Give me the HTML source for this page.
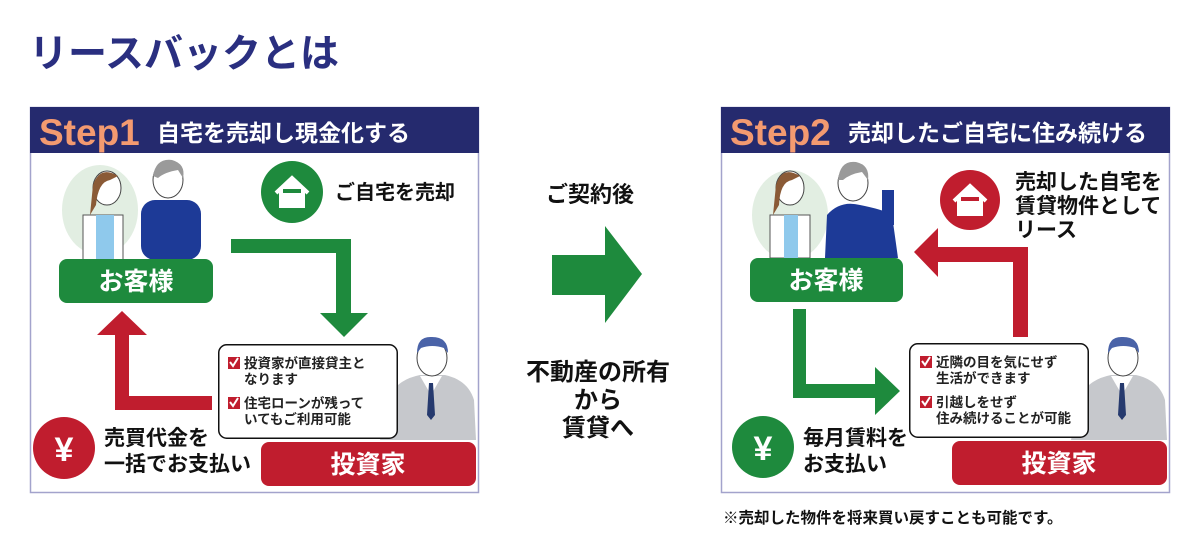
<!DOCTYPE html>
<html><head><meta charset="utf-8"><style>
html,body{margin:0;padding:0;background:#fff;}
svg{display:block;}
text{font-family:"Liberation Sans","Noto Sans CJK JP",sans-serif;font-weight:bold;}
</style></head><body>
<svg width="1200" height="546" viewBox="0 0 1200 546" xmlns="http://www.w3.org/2000/svg">
<text x="29" y="67" font-size="39" fill="#2a2f80">リースバックとは</text>

<!-- STEP1 -->
<rect x="30.5" y="107.5" width="448" height="385" fill="#fff" stroke="#a3a3cc" stroke-width="1.5"/>
<rect x="30" y="107" width="449" height="46" fill="#252a6e"/>
<text x="39" y="145" font-size="37" fill="#f39a70" font-family="Liberation Sans,sans-serif">Step1</text>
<text x="157" y="141" font-size="23" fill="#fff">自宅を売却し現金化する</text>

<ellipse cx="100" cy="210" rx="38" ry="45" fill="#dbeadb" opacity="0.8"/>
<rect x="83" y="215" width="40" height="45" fill="#fff" stroke="#555" stroke-width="1"/>
<rect x="96" y="215" width="18" height="45" fill="#8fc9ec"/>
<ellipse cx="107" cy="188" rx="14" ry="17" fill="#fff" stroke="#444"/>
<path d="M93 185 Q100 165 118 176 L110 180 Q98 182 96 205 L90 215 Z" fill="#8a5a36"/>
<rect x="141" y="200" width="60" height="60" rx="14" fill="#1d3a97"/>
<ellipse cx="168" cy="180" rx="15" ry="18" fill="#fff" stroke="#444"/>
<path d="M153 176 Q156 158 172 160 Q186 164 183 178 L178 170 Q165 172 158 178 Z" fill="#9a9a9a"/>
<rect x="59" y="259" width="154" height="44" rx="8" fill="#1e8a3d"/>
<text x="136" y="290" font-size="25" fill="#fff" text-anchor="middle">お客様</text>

<circle cx="292" cy="192" r="31" fill="#1e8a3d"/>
<path d="M276 193 L292 178 L308 193 M281 189 L281 206 L303 206 L303 189" fill="#fff" stroke="#fff" stroke-width="4"/>
<text x="335" y="199" font-size="20" fill="#111">ご自宅を売却</text>

<path d="M231 239 H351 V313 H368 L344 337 L320 313 H336 V253 H231 Z" fill="#1e8a3d"/>
<path d="M115 410 V335 H97 L122 311 L147 335 H129 V396 H212 V410 Z" fill="#c01d2e"/>

<path d="M380 440 L388 400 Q395 380 420 375 L445 375 Q468 380 474 400 L476 440 Z" fill="#c6c8cc"/>
<path d="M420 376 L431 395 L442 376 Z" fill="#fff"/>
<path d="M429 383 L433 383 L435 415 L431 420 L427 415 Z" fill="#263a6e"/>
<ellipse cx="432" cy="358" rx="15" ry="18" fill="#fff" stroke="#444"/>
<path d="M417 353 Q417 336 432 337 Q448 337 448 353 L444 348 Q432 344 421 348 Z" fill="#4a63a8"/>
<path d="M368 385 Q372 375 385 378 L395 398 L388 402 Z" fill="#fff" stroke="#555"/>

<rect x="218.75" y="344.75" width="178.5" height="93.5" rx="8" fill="#fff" stroke="#111" stroke-width="1.5"/>
<rect x="228" y="357" width="12" height="12" fill="#c01d2e"/><path d="M230 362 L233 366 L238 358" stroke="#fff" stroke-width="2" fill="none"/>
<text x="244" y="368" font-size="13.5" fill="#222">投資家が直接貸主と</text>
<text x="244" y="384" font-size="13.5" fill="#222">なります</text>
<rect x="228" y="397" width="12" height="12" fill="#c01d2e"/><path d="M230 402 L233 406 L238 398" stroke="#fff" stroke-width="2" fill="none"/>
<text x="244" y="408" font-size="13.5" fill="#222">住宅ローンが残って</text>
<text x="244" y="424" font-size="13.5" fill="#222">いてもご利用可能</text>

<rect x="261" y="442" width="215" height="44" rx="8" fill="#c01d2e"/>
<text x="368" y="473" font-size="25" fill="#fff" text-anchor="middle">投資家</text>

<circle cx="64" cy="448" r="31" fill="#c01d2e"/>
<text x="64" y="461" font-size="34" fill="#fff" text-anchor="middle">¥</text>
<text x="104" y="445" font-size="21" fill="#111">売買代金を</text>
<text x="104" y="471" font-size="21" fill="#111">一括でお支払い</text>

<!-- middle -->
<text x="590" y="202" font-size="22" fill="#111" text-anchor="middle">ご契約後</text>
<path d="M552 255 H605 V226 L642 274 L605 323 V295 H552 Z" fill="#1e8a3d"/>
<text x="598" y="380" font-size="24" fill="#111" text-anchor="middle">不動産の所有</text>
<text x="598" y="408" font-size="24" fill="#111" text-anchor="middle">から</text>
<text x="598" y="436" font-size="24" fill="#111" text-anchor="middle">賃貸へ</text>

<!-- STEP2 -->
<rect x="721.5" y="107.5" width="448" height="385" fill="#fff" stroke="#a3a3cc" stroke-width="1.5"/>
<rect x="721" y="107" width="449" height="46" fill="#252a6e"/>
<text x="730" y="145" font-size="37" fill="#f39a70" font-family="Liberation Sans,sans-serif">Step2</text>
<text x="848" y="141" font-size="23" fill="#fff">売却したご自宅に住み続ける</text>

<ellipse cx="790" cy="215" rx="38" ry="45" fill="#dbeadb" opacity="0.8"/>
<rect x="770" y="215" width="40" height="43" fill="#fff" stroke="#555" stroke-width="1"/>
<rect x="784" y="215" width="14" height="43" fill="#8fc9ec"/>
<ellipse cx="790" cy="188" rx="14" ry="17" fill="#fff" stroke="#444"/>
<path d="M776 185 Q782 165 800 176 L792 180 Q780 182 779 205 L773 215 Z" fill="#8a5a36"/>
<path d="M825 258 L827 215 Q840 200 860 205 Q885 210 892 215 L898 258 Z" fill="#1d3a97"/>
<rect x="882" y="190" width="12" height="35" fill="#1d3a97"/>
<ellipse cx="853" cy="183" rx="15" ry="18" fill="#fff" stroke="#444"/>
<path d="M838 180 Q840 160 856 162 Q870 165 868 180 L862 172 Q850 174 843 180 Z" fill="#9a9a9a"/>
<rect x="750" y="258" width="153" height="44" rx="8" fill="#1e8a3d"/>
<text x="826" y="289" font-size="25" fill="#fff" text-anchor="middle">お客様</text>

<circle cx="970" cy="200" r="30" fill="#c01d2e"/>
<path d="M954 201 L970 186 L986 201 M959 197 L959 214 L981 214 L981 197" fill="#fff" stroke="#fff" stroke-width="4"/>
<text x="1015" y="189" font-size="21" fill="#111">売却した自宅を</text>
<text x="1015" y="213" font-size="21" fill="#111">賃貸物件として</text>
<text x="1015" y="237" font-size="21" fill="#111">リース</text>

<path d="M1028 337 V247 H938 V228 L914 252 L938 277 V262 H1013 V337 Z" fill="#c01d2e"/>
<path d="M793 309 V398 H875 V415 L900 391 L875 367 V384 H806 V309 Z" fill="#1e8a3d"/>

<path d="M1071 440 L1079 400 Q1086 380 1111 375 L1136 375 Q1159 380 1165 400 L1167 440 Z" fill="#c6c8cc"/>
<path d="M1111 376 L1122 395 L1133 376 Z" fill="#fff"/>
<path d="M1120 383 L1124 383 L1126 415 L1122 420 L1118 415 Z" fill="#263a6e"/>
<ellipse cx="1123" cy="358" rx="15" ry="18" fill="#fff" stroke="#444"/>
<path d="M1108 353 Q1108 336 1123 337 Q1139 337 1139 353 L1135 348 Q1123 344 1112 348 Z" fill="#4a63a8"/>
<path d="M1059 385 Q1063 375 1076 378 L1086 398 L1079 402 Z" fill="#fff" stroke="#555"/>

<rect x="909.75" y="343.75" width="178.5" height="93.5" rx="8" fill="#fff" stroke="#111" stroke-width="1.5"/>
<rect x="920" y="356" width="12" height="12" fill="#c01d2e"/><path d="M922 361 L925 365 L930 357" stroke="#fff" stroke-width="2" fill="none"/>
<text x="936" y="367" font-size="13.5" fill="#222">近隣の目を気にせず</text>
<text x="936" y="383" font-size="13.5" fill="#222">生活ができます</text>
<rect x="920" y="396" width="12" height="12" fill="#c01d2e"/><path d="M922 401 L925 405 L930 397" stroke="#fff" stroke-width="2" fill="none"/>
<text x="936" y="407" font-size="13.5" fill="#222">引越しをせず</text>
<text x="936" y="423" font-size="13.5" fill="#222">住み続けることが可能</text>

<rect x="952" y="441" width="215" height="44" rx="8" fill="#c01d2e"/>
<text x="1059" y="472" font-size="25" fill="#fff" text-anchor="middle">投資家</text>

<circle cx="763" cy="447" r="31" fill="#1e8a3d"/>
<text x="763" y="460" font-size="34" fill="#fff" text-anchor="middle">¥</text>
<text x="803" y="445" font-size="21" fill="#111">毎月賃料を</text>
<text x="803" y="471" font-size="21" fill="#111">お支払い</text>

<text x="723" y="523" font-size="15.5" fill="#111">※売却した物件を将来買い戻すことも可能です。</text>
</svg>
</body></html>
